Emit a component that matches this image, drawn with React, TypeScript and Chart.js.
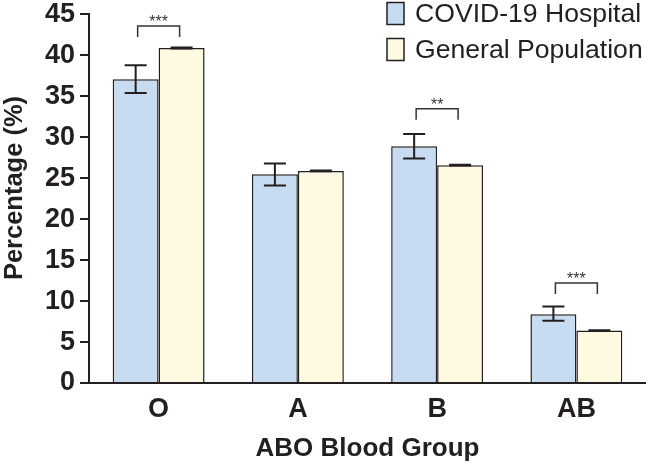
import React, { useEffect, useRef } from "react";
import { Chart, registerables } from "chart.js";

Chart.register(...registerables);

const categories = ["O", "A", "B", "AB"];
const seriesNames = ["COVID-19 Hospital", "General Population"];
const hospital = [37.1, 25.5, 28.9, 8.4];
const hospitalLow = [35.4, 24.1, 27.4, 7.6];
const hospitalHigh = [38.8, 26.8, 30.4, 9.35];
const general = [40.9, 25.9, 26.6, 6.4];
const generalLow = [40.85, 25.85, 26.55, 6.35];
const generalHigh = [40.95, 25.95, 26.65, 6.45];
const sigLabels = ["***", "", "**", "***"];
const sigHeights = [43.6, null, 33.5, 12.2];
const yTicks = [0, 5, 10, 15, 20, 25, 30, 35, 40, 45];
const yTitle = "Percentage (%)";
const xTitle = "ABO Blood Group";

const INK = "#231f20";
const BLUE = "#c8dcf1";
const YELLOW = "#fdfae1";
const FAMILY = "'Liberation Sans', Arial, sans-serif";

const errorBarPlugin = {
  id: "errorBars",
  afterDatasetsDraw(chart: any) {
    const ctx = chart.ctx;
    const y = chart.scales.y;
    const lows = [hospitalLow, generalLow];
    const highs = [hospitalHigh, generalHigh];
    ctx.save();
    ctx.strokeStyle = INK;
    ctx.lineWidth = 2;
    chart.data.datasets.forEach((ds: any, di: number) => {
      const meta = chart.getDatasetMeta(di);
      meta.data.forEach((bar: any, i: number) => {
        const x = bar.x;
        const yl = y.getPixelForValue(lows[di][i]);
        const yh = y.getPixelForValue(highs[di][i]);
        const hw = 11;
        ctx.beginPath();
        ctx.moveTo(x, yl);
        ctx.lineTo(x, yh);
        ctx.moveTo(x - hw, yl);
        ctx.lineTo(x + hw, yl);
        ctx.moveTo(x - hw, yh);
        ctx.lineTo(x + hw, yh);
        ctx.stroke();
      });
    });
    const m0 = chart.getDatasetMeta(0);
    const m1 = chart.getDatasetMeta(1);
    ctx.lineWidth = 1.5;
    ctx.strokeStyle = "#333";
    ctx.fillStyle = "#333";
    sigHeights.forEach((h, i) => {
      if (h === null) return;
      const x0 = m0.data[i].x + 2;
      const x1 = m1.data[i].x - 2;
      const yt = y.getPixelForValue(h);
      const yb = yt + 11;
      ctx.beginPath();
      ctx.moveTo(x0, yb);
      ctx.lineTo(x0, yt);
      ctx.lineTo(x1, yt);
      ctx.lineTo(x1, yb);
      ctx.stroke();
      ctx.font = "16px " + FAMILY;
      ctx.textAlign = "center";
      ctx.textBaseline = "alphabetic";
      ctx.fillText(sigLabels[i], (x0 + x1) / 2, yt + 1);
    });
    ctx.restore();
  },
};

const legendPlugin = {
  id: "customLegend",
  afterDraw(chart: any) {
    const ctx = chart.ctx;
    ctx.save();
    const bx = 387;
    const bw = 17;
    const bh = 22;
    const centers = [13.5, 49.5];
    chart.data.datasets.forEach((ds: any, i: number) => {
      const cy = centers[i];
      ctx.fillStyle = ds.backgroundColor;
      ctx.fillRect(bx, cy - bh / 2, bw, bh);
      ctx.strokeStyle = INK;
      ctx.lineWidth = 1.5;
      ctx.strokeRect(bx, cy - bh / 2, bw, bh);
      ctx.fillStyle = INK;
      ctx.font = "26.6px " + FAMILY;
      ctx.textAlign = "left";
      ctx.textBaseline = "middle";
      ctx.fillText(ds.label, 415, cy + 1);
    });
    ctx.translate(15, 188);
    ctx.rotate(-Math.PI / 2);
    ctx.font = "bold 25.5px " + FAMILY;
    ctx.textAlign = "center";
    ctx.textBaseline = "middle";
    ctx.fillText(yTitle, 0, 0);
    ctx.restore();
  },
};

export default function App() {
  const ref = useRef<HTMLCanvasElement | null>(null);
  useEffect(() => {
    document.body.style.margin = "0";
    const canvas = ref.current;
    if (!canvas) return;
    const chart = new Chart(canvas, {
      type: "bar",
      data: {
        labels: categories,
        datasets: [
          {
            label: seriesNames[0],
            data: hospital,
            backgroundColor: BLUE,
            borderColor: INK,
            borderWidth: 1.5,
            categoryPercentage: 0.66,
            barPercentage: 1,
          },
          {
            label: seriesNames[1],
            data: general,
            backgroundColor: YELLOW,
            borderColor: INK,
            borderWidth: 1.5,
            categoryPercentage: 0.66,
            barPercentage: 1,
          },
        ],
      },
      options: {
        animation: false,
        responsive: false,
        maintainAspectRatio: false,
        layout: { padding: { top: 11, right: 0, left: 0, bottom: 0 } },
        plugins: {
          legend: { display: false },
          tooltip: { enabled: false },
        },
        scales: {
          x: {
            offset: true,
            grid: { display: true, drawOnChartArea: false, drawTicks: false },
            border: { display: true, color: INK, width: 2 },
            ticks: {
              color: INK,
              padding: 10,
              font: { family: FAMILY, size: 27, weight: "bold" },
            },
            title: {
              display: true,
              text: xTitle,
              color: INK,
              padding: { top: 6, bottom: 0 },
              font: { family: FAMILY, size: 26, weight: "bold" },
            },
            afterFit(scale: any) {
              scale.height = 81;
            },
          },
          y: {
            min: 0,
            max: 45,
            afterBuildTicks(scale: any) {
              scale.ticks = yTicks.map((v) => ({ value: v }));
            },
            grid: {
              display: true,
              drawOnChartArea: false,
              drawTicks: true,
              tickLength: 9,
              color: INK,
              lineWidth: 2,
            },
            border: { display: true, color: INK, width: 2 },
            ticks: {
              color: INK,
              padding: 5,
              font: { family: FAMILY, size: 27, weight: "bold", lineHeight: 0.7 },
            },
            title: { display: false },
            afterFit(scale: any) {
              scale.width = 89;
            },
          },
        },
      },
      plugins: [errorBarPlugin, legendPlugin],
    });
    return () => chart.destroy();
  }, []);
  return (
    <div style={{ width: 646, height: 464, background: "#fff" }}>
      <canvas ref={ref} width={646} height={464} style={{ display: "block" }} />
    </div>
  );
}
